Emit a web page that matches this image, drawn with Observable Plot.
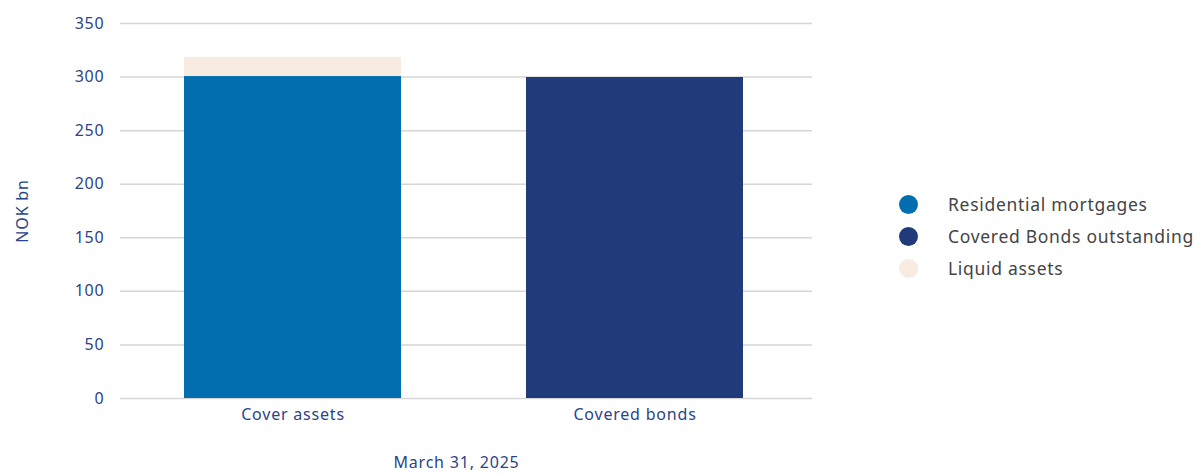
<!DOCTYPE html>
<html>
<head>
<meta charset="utf-8">
<script src="https://cdn.jsdelivr.net/npm/d3@7"></script>
<script src="https://cdn.jsdelivr.net/npm/@observablehq/plot@0.6"></script>
<style>
  html, body { margin: 0; padding: 0; background: #fff; }
  #wrap { position: relative; width: 1203px; height: 474px; font-family: "Noto Sans", Lato, sans-serif; }
  #chart { position: absolute; left: 0; top: 0; }
  #legend { position: absolute; left: 899px; top: 188px; }
  .item { display: flex; align-items: center; height: 32px; font-size: 17.5px; letter-spacing: 0.7px; color: #444; white-space: nowrap; }
  .dot { width: 19px; height: 19px; border-radius: 50%; margin-right: 30px; flex: none; }
</style>
</head>
<body>
<div id="wrap"><div id="chart"></div><div id="legend"></div></div>
<script>
const categories = ["Cover assets", "Covered bonds"];
const seriesNames = ["Residential mortgages", "Covered Bonds outstanding", "Liquid assets"];
const residential = [300.5, 0];
const coveredOutstanding = [0, 299.6];
const liquid = [17.8, 0];
const colors = ["#026EB0", "#213B7A", "#F7EBE2"];
const yTicks = [0, 50, 100, 150, 200, 250, 300, 350];
const dateLabel = "March 31, 2025";
const yLabel = "NOK bn";

const rows = [];
categories.forEach((c, i) => {
  rows.push({cat: c, series: seriesNames[0], value: residential[i]});
  rows.push({cat: c, series: seriesNames[1], value: coveredOutstanding[i]});
  rows.push({cat: c, series: seriesNames[2], value: liquid[i]});
});

const textColor = "#2B4488";
const plot = Plot.plot({
  width: 830,
  height: 474,
  marginLeft: 120,
  marginRight: 18,
  marginTop: 23,
  marginBottom: 76,
  style: {fontFamily: '"Noto Sans", Lato, sans-serif', fontSize: "16px", letterSpacing: "0.8px", color: textColor, background: "transparent", overflow: "visible"},
  x: {domain: categories, range: [120, 807], paddingInner: 0.3655, paddingOuter: 0.187},
  y: {domain: [0, 350]},
  color: {domain: seriesNames, range: colors},
  marks: [
    Plot.gridY(yTicks, {stroke: "#d6d6d6", strokeOpacity: 1, strokeWidth: 1.5}),
    Plot.barY(rows, Plot.stackY({x: "cat", y: "value", fill: "series", order: seriesNames})),
    Plot.axisY({ticks: yTicks, tickSize: 0, tickPadding: 16, label: yLabel, labelAnchor: "center", labelArrow: "none", labelOffset: 104, fill: textColor, fontSize: 16}),
    Plot.axisX({tickSize: 0, tickPadding: 10, label: null, fill: textColor, fontSize: 16}),
    Plot.text([dateLabel], {frameAnchor: "bottom", dx: -10, dy: 69, fill: textColor, fontSize: 16})
  ]
});
document.getElementById("chart").appendChild(plot);

const legend = document.getElementById("legend");
seriesNames.forEach((s, i) => {
  const d = document.createElement("div");
  d.className = "item";
  d.innerHTML = `<span class="dot" style="background:${colors[i]}"></span><span>${s}</span>`;
  legend.appendChild(d);
});
</script>
</body>
</html>
